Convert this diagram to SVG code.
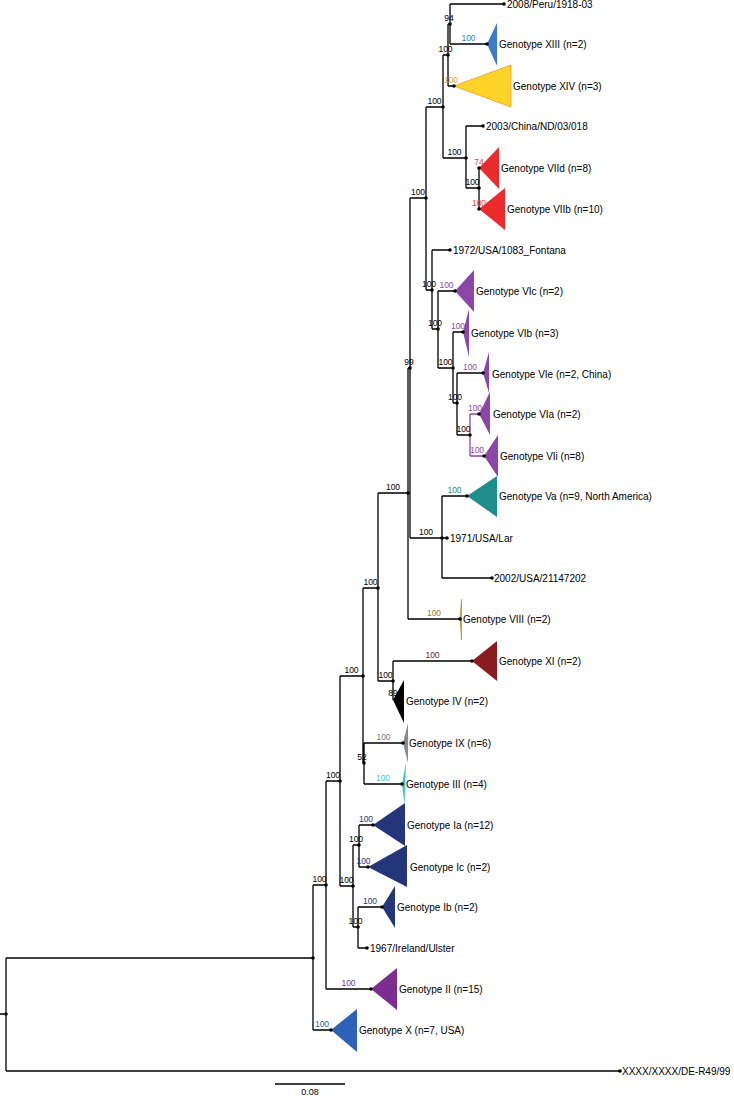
<svg xmlns="http://www.w3.org/2000/svg" width="734" height="1096" viewBox="0 0 734 1096">
<style>
text{font-family:"Liberation Sans",Arial,sans-serif;}
.tip{font-size:10px;fill:#000;}
.sup{font-size:8.5px;fill:#000;text-anchor:middle;}
.br{stroke:#000;stroke-width:1.3;fill:none;}
.brp{stroke:#8B47A8;stroke-width:1.3;fill:none;}
.dot{fill:#000;}
.scale{font-size:9px;text-anchor:middle;}
</style>
<rect width="734" height="1096" fill="#fff"/>
<g id="connectors">
<path class="br" d="M0 1014H6M6 958V1071M6 958H313M6 1071H620
M313 885V1030M313 1030H331M313 885H326
M326 781V989M326 989H371M326 781H340
M340 676V886M340 676H363M340 886H353
M353 845V927M353 845H359M353 927H358
M359 825V867M359 825H373M359 867H368
M358 907V948M358 907H382M358 948H367
M363 588V763M363 588H378M363 763H364
M364 743V784M364 743H403M364 784H402
M378 493V681M378 493H408M378 681H393
M393 661V700M393 661H472
M408 368V619M408 368H410M408 619H460
M410 198V538M410 198H426M410 538H442
M442 496V578M442 496H467M442 538H447M442 578H492
M426 107V290M426 107H443M426 290H432
M443 55V158M443 55H448M443 158H466
M448 24V86M448 24H450M448 86H454
M450 4V44M450 4H504M450 44H487
M466 126V188M466 126H483M466 188H479
M479 168V209
M432 250V329M432 250H450M432 329H438
M438 291V368M438 291H455M438 368H453
M453 332V403M453 332H463M453 403H457
M457 373V435M457 373H483M457 435H470"/>
<path class="brp" d="M470 414V456M470 414H479M470 456H484"/>
<path class="br" d="M275 1084H345"/>
</g>
<g id="internal-nodes">
<g id="n-root"><circle class="dot" cx="6" cy="1014" r="1.8"/></g>
<g id="n1"><circle class="dot" cx="313" cy="958" r="1.8"/></g>
<g id="n-w"><circle class="dot" cx="326" cy="885" r="1.8"/><text class="sup" x="319.5" y="881.5">100</text></g>
<g id="n-s"><circle class="dot" cx="340" cy="781" r="1.8"/><text class="sup" x="333" y="777.5">100</text></g>
<g id="n-t"><circle class="dot" cx="353" cy="886" r="1.8"/><text class="sup" x="346.5" y="882.5">100</text></g>
<g id="n-u"><circle class="dot" cx="359" cy="845" r="1.8"/><text class="sup" x="356" y="841.5">100</text></g>
<g id="n-v"><circle class="dot" cx="358" cy="927" r="1.8"/><text class="sup" x="355.5" y="923.5">100</text></g>
<g id="n-q"><circle class="dot" cx="363" cy="676" r="1.8"/><text class="sup" x="351.5" y="672.5">100</text></g>
<g id="n-52"><circle class="dot" cx="364" cy="763" r="1.8"/><text class="sup" x="362" y="759.5">52</text></g>
<g id="n-p"><circle class="dot" cx="378" cy="588" r="1.8"/><text class="sup" x="370.5" y="584.5">100</text></g>
<g id="n-xi-iv"><circle class="dot" cx="393" cy="681" r="1.8"/><text class="sup" x="385.5" y="677.5">100</text></g>
<g id="n-408"><circle class="dot" cx="408" cy="493" r="1.8"/><text class="sup" x="393" y="489.5">100</text></g>
<g id="n-99"><circle class="dot" cx="410" cy="368" r="1.8"/><text class="sup" x="409" y="364.5">99</text></g>
<g id="n-442"><circle class="dot" cx="442" cy="538" r="1.8"/><text class="sup" x="426" y="534.5">100</text></g>
<g id="n-426"><circle class="dot" cx="426" cy="198" r="1.8"/><text class="sup" x="418" y="194.5">100</text></g>
<g id="n-443"><circle class="dot" cx="443" cy="107" r="1.8"/><text class="sup" x="434.5" y="103.5">100</text></g>
<g id="n-448"><circle class="dot" cx="448" cy="55" r="1.8"/><text class="sup" x="445.5" y="51.5">100</text></g>
<g id="n-94"><circle class="dot" cx="450" cy="24" r="1.8"/><text class="sup" x="449" y="20.5">94</text></g>
<g id="n-466"><circle class="dot" cx="466" cy="158" r="1.8"/><text class="sup" x="454.5" y="154.5">100</text></g>
<g id="n-479"><circle class="dot" cx="479" cy="188" r="1.8"/><text class="sup" x="472.5" y="184.5">100</text></g>
<g id="n-432"><circle class="dot" cx="432" cy="290" r="1.8"/><text class="sup" x="429" y="286.5">100</text></g>
<g id="n-438"><circle class="dot" cx="438" cy="329" r="1.8"/><text class="sup" x="435" y="325.5">100</text></g>
<g id="n-453"><circle class="dot" cx="453" cy="368" r="1.8"/><text class="sup" x="445.5" y="364.5">100</text></g>
<g id="n-457"><circle class="dot" cx="457" cy="403" r="1.8"/><text class="sup" x="455" y="399.5">100</text></g>
<g id="n-470"><circle class="dot" cx="470" cy="435" r="1.8"/><text class="sup" x="463.5" y="431.5">100</text></g>
</g>
<g id="tips">
<g id="t-2008"><circle class="dot" cx="504" cy="4" r="1.8"/><text class="tip" x="507" y="7.5">2008/Peru/1918-03</text></g>
<g id="t-xiii"><polygon points="487,44 497,23 497,66" fill="#3B7BC8"/><circle class="dot" cx="487" cy="44" r="1.8"/><text class="sup" x="468.5" y="40.5" fill="#3B7BC8" style="fill:#3B7BC8">100</text><text class="tip" x="499" y="47.5">Genotype XIII (n=2)</text></g>
<g id="t-xiv"><polygon points="454,86 511,65 511,107" fill="#FFD428" stroke="#F2A93B" stroke-width="1"/><circle class="dot" cx="454" cy="86" r="1.8"/><text class="sup" x="451" y="82.5" style="fill:#F0A030">100</text><text class="tip" x="513" y="89.5">Genotype XIV (n=3)</text></g>
<g id="t-2003"><circle class="dot" cx="483" cy="126" r="1.8"/><text class="tip" x="486" y="129.5">2003/China/ND/03/018</text></g>
<g id="t-viid"><polygon points="479,168 499,147 499,189" fill="#EA2C2C"/><circle class="dot" cx="479" cy="168" r="1.8"/><text class="sup" x="479" y="164.5" style="fill:#E84444">74</text><text class="tip" x="501" y="171.5">Genotype VIId (n=8)</text></g>
<g id="t-viib"><polygon points="479,209 505,188 505,230" fill="#EA2C2C"/><circle class="dot" cx="479" cy="209" r="1.8"/><text class="sup" x="479" y="205.5" style="fill:#E84444">100</text><text class="tip" x="507" y="212.5">Genotype VIIb (n=10)</text></g>
<g id="t-1972"><circle class="dot" cx="450" cy="250" r="1.8"/><text class="tip" x="453" y="253.5">1972/USA/1083_Fontana</text></g>
<g id="t-vic"><polygon points="455,291 474,270 474,312" fill="#8B47A8"/><circle class="dot" cx="455" cy="291" r="1.8"/><text class="sup" x="446.5" y="287.5" style="fill:#8B47A8">100</text><text class="tip" x="476" y="294.5">Genotype VIc (n=2)</text></g>
<g id="t-vib"><polygon points="463,332 469,309 469,357" fill="#8B47A8"/><circle class="dot" cx="463" cy="332" r="1.8"/><text class="sup" x="458" y="328.5" style="fill:#8B47A8">100</text><text class="tip" x="471" y="336.5">Genotype VIb (n=3)</text></g>
<g id="t-vie"><polygon points="483,373 489,352 489,393" fill="#8B47A8"/><circle class="dot" cx="483" cy="373" r="1.8"/><text class="sup" x="470" y="369.5" style="fill:#8B47A8">100</text><text class="tip" x="492" y="377.5">Genotype VIe (n=2, China)</text></g>
<g id="t-via"><polygon points="479,414 490,392 490,435" fill="#8B47A8"/><circle class="dot" cx="479" cy="414" r="1.8"/><text class="sup" x="475" y="410.5" style="fill:#8B47A8">100</text><text class="tip" x="493" y="417.5">Genotype VIa (n=2)</text></g>
<g id="t-vii"><polygon points="484,456 498,435 498,477" fill="#8B47A8"/><circle class="dot" cx="484" cy="456" r="1.8"/><text class="sup" x="477" y="452.5" style="fill:#8B47A8">100</text><text class="tip" x="500" y="460">Genotype VIi (n=8)</text></g>
<g id="t-va"><polygon points="467,496 497,476 497,517" fill="#1E8E8C"/><circle class="dot" cx="467" cy="496" r="1.8"/><text class="sup" x="454.5" y="492.5" style="fill:#1E8E8C">100</text><text class="tip" x="499" y="499.5">Genotype Va (n=9, North America)</text></g>
<g id="t-1971"><circle class="dot" cx="447" cy="538" r="1.8"/><text class="tip" x="450" y="541.5">1971/USA/Lar</text></g>
<g id="t-2002"><circle class="dot" cx="492" cy="578" r="1.8"/><text class="tip" x="494" y="581.5">2002/USA/21147202</text></g>
<g id="t-viii"><polygon points="460,619 461.5,599 461.5,640" fill="#B8862E" stroke="#B8862E" stroke-width="0.6"/><circle class="dot" cx="460" cy="619" r="1.8"/><text class="sup" x="434" y="615.5" style="fill:#A07A2A">100</text><text class="tip" x="463" y="623">Genotype VIII (n=2)</text></g>
<g id="t-xi"><polygon points="472,661 497,641 497,681" fill="#8A1B1E"/><circle class="dot" cx="472" cy="661" r="1.8"/><text class="sup" x="432.5" y="657.5" style="fill:#7A1A1A">100</text><text class="tip" x="499" y="664.5">Genotype XI (n=2)</text></g>
<g id="t-iv"><polygon points="393,700 404,680 404,723" fill="#000"/><text class="sup" x="393" y="696">89</text><text class="tip" x="406" y="704.5">Genotype IV (n=2)</text></g>
<g id="t-ix"><polygon points="403,743 408,723 408,763" fill="#8A8A8A"/><circle class="dot" cx="403" cy="743" r="1.8"/><text class="sup" x="383.5" y="739.5" style="fill:#7A7A7A">100</text><text class="tip" x="409" y="746.5">Genotype IX (n=6)</text></g>
<g id="t-iii"><polygon points="402,784 406,762 404.5,805" fill="#3CC6CC"/><circle class="dot" cx="402" cy="784" r="1.8"/><text class="sup" x="383" y="780.5" style="fill:#3CC6CC">100</text><text class="tip" x="406" y="787.5">Genotype III (n=4)</text></g>
<g id="t-ia"><polygon points="373,825 405,803 405,846" fill="#253579"/><circle class="dot" cx="373" cy="825" r="1.8"/><text class="sup" x="366" y="821.5" style="fill:#253579">100</text><text class="tip" x="407" y="828.5">Genotype Ia (n=12)</text></g>
<g id="t-ic"><polygon points="368,867 407,845 407,887" fill="#253579"/><circle class="dot" cx="368" cy="867" r="1.8"/><text class="sup" x="363.5" y="863.5" style="fill:#253579">100</text><text class="tip" x="410" y="870.5">Genotype Ic (n=2)</text></g>
<g id="t-ib"><polygon points="382,907 395,886 395,928" fill="#253579"/><circle class="dot" cx="382" cy="907" r="1.8"/><text class="sup" x="370" y="903.5" style="fill:#253579">100</text><text class="tip" x="397" y="910.5">Genotype Ib (n=2)</text></g>
<g id="t-1967"><circle class="dot" cx="367" cy="948" r="1.8"/><text class="tip" x="370" y="951.5">1967/Ireland/Ulster</text></g>
<g id="t-ii"><polygon points="371,989 397,968 397,1010" fill="#7C2D8F"/><circle class="dot" cx="371" cy="989" r="1.8"/><text class="sup" x="348.5" y="985.5" style="fill:#7C2D8F">100</text><text class="tip" x="399" y="992.5">Genotype II (n=15)</text></g>
<g id="t-x"><polygon points="331,1030 357,1009 357,1052" fill="#2C63B6"/><circle class="dot" cx="331" cy="1030" r="1.8"/><text class="sup" x="322" y="1026.5" style="fill:#2C63B6">100</text><text class="tip" x="359" y="1033.5">Genotype X (n=7, USA)</text></g>
<g id="t-de"><circle class="dot" cx="620" cy="1071" r="1.8"/><text class="tip" x="622" y="1074.5">XXXX/XXXX/DE-R49/99</text></g>
</g>
<g id="scale-bar"><text class="scale" x="310" y="1095">0.08</text></g>
</svg>
